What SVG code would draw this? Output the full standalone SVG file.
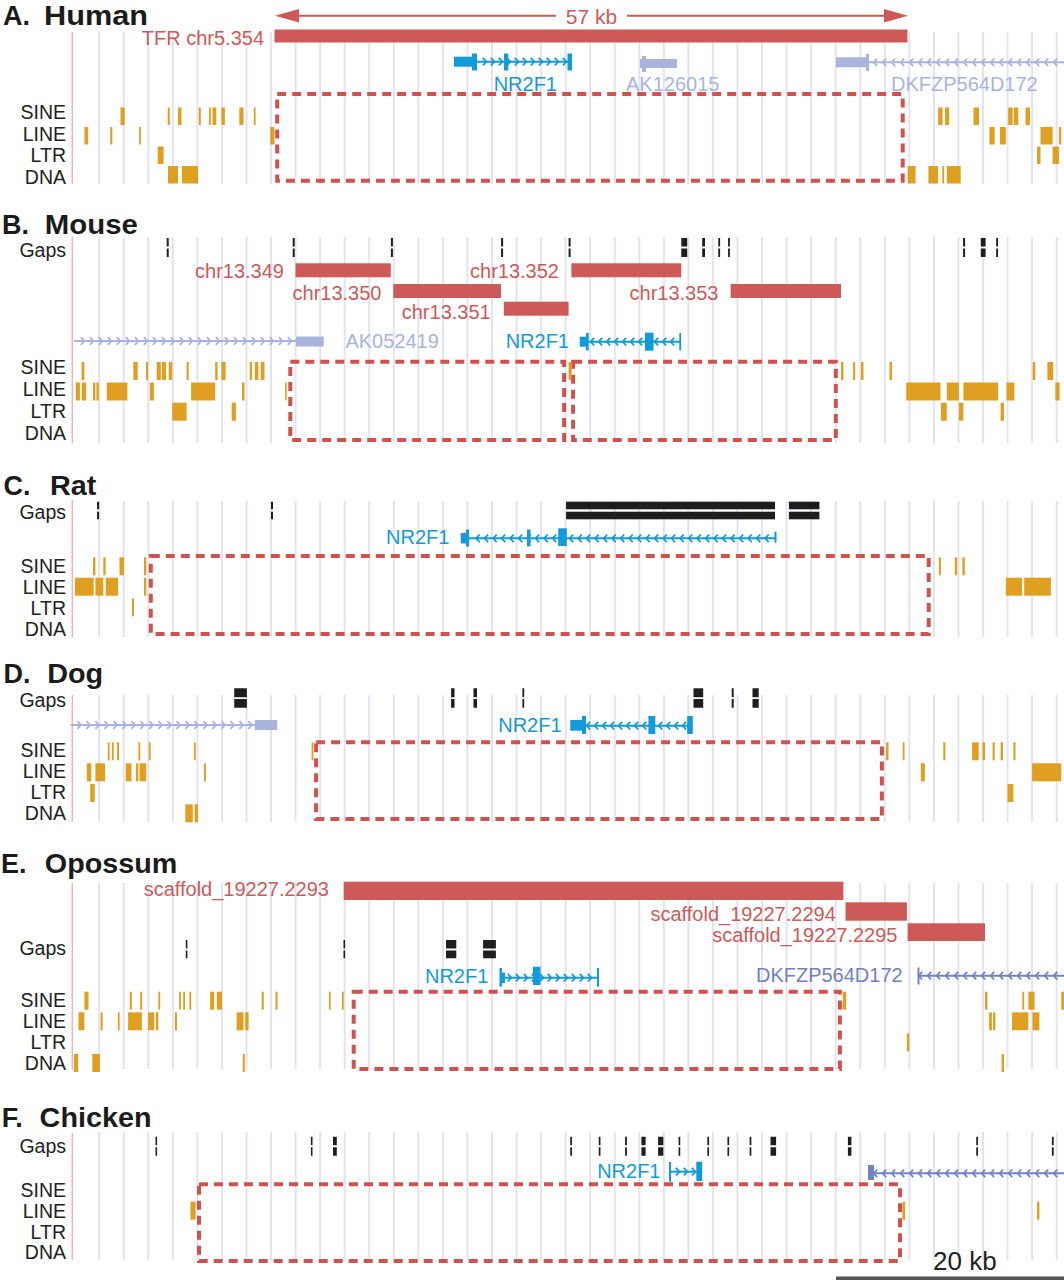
<svg xmlns="http://www.w3.org/2000/svg" width="1064" height="1280" viewBox="0 0 1064 1280">
<style>
.t{font-family:'Liberation Sans',Arial,sans-serif;font-weight:bold;font-size:27px;fill:#1b1b1b}
.l{font-family:'Liberation Sans',Arial,sans-serif;font-size:19.5px;fill:#222;text-anchor:end}
.rt{font-family:'Liberation Sans',Arial,sans-serif;font-size:20px;fill:#cd5a57;text-anchor:end}
.bt{font-family:'Liberation Sans',Arial,sans-serif;font-size:20px;fill:#119bda;text-anchor:end}
.vt{font-family:'Liberation Sans',Arial,sans-serif;font-size:20px;fill:#a8b4de}
.dt{font-family:'Liberation Sans',Arial,sans-serif;font-size:20px;fill:#6f80c3;text-anchor:end}
.g{fill:url(#grid)}
.ax{stroke:#f5b3b3;stroke-width:1.5}
.r{fill:#dfa021}
.c{fill:#cd5a57}
.k{fill:#1e1e1e}
.gp{stroke:#1e1e1e;stroke-width:2;stroke-dasharray:8.5 2}
.bx{fill:none;stroke:#d0524f;stroke-width:4;stroke-dasharray:9 6}
.nb{fill:#119bda}
.nl{stroke:#119bda;stroke-width:2;fill:none;marker-mid:url(#chB)}
.lb{fill:#a8b4de}
.ll{stroke:#a8b4de;stroke-width:2;fill:none;marker-mid:url(#chL)}
.db{fill:#7183c5}
.dl{stroke:#7183c5;stroke-width:2;fill:none;marker-mid:url(#chD)}
</style>
<defs>
<pattern id="grid" patternUnits="userSpaceOnUse" x="0" y="0" width="24.55" height="20"><rect x="0.2" y="0" width="1.6" height="20" fill="#dcdcee"/></pattern>
<marker id="chB" viewBox="-5 -5 10 10" markerWidth="10" markerHeight="10" refX="0" refY="0" orient="auto" markerUnits="userSpaceOnUse"><path d="M-2.2,-3.8 L1.4,0 L-2.2,3.8" fill="none" stroke="#119bda" stroke-width="1.8"/></marker>
<marker id="chL" viewBox="-5 -5 10 10" markerWidth="10" markerHeight="10" refX="0" refY="0" orient="auto" markerUnits="userSpaceOnUse"><path d="M-2.2,-3.8 L1.4,0 L-2.2,3.8" fill="none" stroke="#a8b4de" stroke-width="1.8"/></marker>
<marker id="chD" viewBox="-5 -5 10 10" markerWidth="10" markerHeight="10" refX="0" refY="0" orient="auto" markerUnits="userSpaceOnUse"><path d="M-2.2,-3.8 L1.4,0 L-2.2,3.8" fill="none" stroke="#7183c5" stroke-width="1.8"/></marker>
</defs>
<rect width="1064" height="1280" fill="#fff"/>

<!-- A. Human -->
<g id="panel-human">
<rect class="g" x="98" y="32" width="966" height="152"/>
<line class="ax" x1="72.3" y1="32" x2="72.3" y2="184"/>
<text class="t" x="3" y="25">A.</text><text class="t" x="44" y="25" textLength="104" lengthAdjust="spacingAndGlyphs">Human</text>
<g id="human-labels"><text class="l" x="66" y="118.5">SINE</text><text class="l" x="66" y="140.5">LINE</text><text class="l" x="66" y="162">LTR</text><text class="l" x="66" y="184">DNA</text></g>
<g id="human-tfr"><rect class="c" x="274.5" y="29.5" width="633" height="13"/><text class="rt" x="264" y="45">TFR chr5.354</text></g>
<g id="human-nr2f1"><path class="nl" d="M477,61.7 h8 h8 h8 h8 h8 h8 h8 h8 h8 h8 h8 H570"/><rect class="nb" x="454" y="56.7" width="21" height="10"/><rect class="nb" x="472" y="53.5" width="5" height="17"/><rect class="nb" x="504" y="53.5" width="4.3" height="17"/><rect class="nb" x="567.5" y="53.5" width="4.5" height="17"/><text class="bt" x="557" y="91">NR2F1</text></g>
<g id="human-ak126015"><rect class="lb" x="640" y="59" width="37" height="9"/><rect class="lb" x="642" y="56" width="4" height="16"/><text class="vt" x="626" y="91">AK126015</text></g>
<g id="human-dkfzp"><path class="ll" d="M1064,62.3 h-9 h-9 h-9 h-9 h-9 h-9 h-9 h-9 h-9 h-9 h-9 h-9 h-9 h-9 h-9 h-9 h-9 h-9 h-9 h-9 h-9 H869"/><rect class="lb" x="836" y="57.3" width="31" height="10"/><rect class="lb" x="866" y="54" width="3" height="17"/><text class="vt" x="891" y="91">DKFZP564D172</text></g>
<rect id="human-box" class="bx" x="277.2" y="94" width="625.5" height="86.7"/>
<g id="human-rep" class="r">
<g transform="translate(0,107.5)"><rect x="120.5" width="4.2" height="17.5"/><rect x="167.7" width="2.1" height="17.5"/><rect x="178" width="3.5" height="17.5"/><rect x="198.7" width="2.1" height="17.5"/><rect x="209" width="1.8" height="17.5"/><rect x="212.5" width="3.8" height="17.5"/><rect x="221.4" width="3.5" height="17.5"/><rect x="239.3" width="4.2" height="17.5"/><rect x="253.8" width="1.8" height="17.5"/><rect x="938.1" width="4.5" height="17.5"/><rect x="945" width="4.2" height="17.5"/><rect x="973.5" width="5.5" height="17.5"/><rect x="1008.2" width="4.5" height="17.5"/><rect x="1013.8" width="4.5" height="17.5"/><rect x="1025.5" width="4.5" height="17.5"/></g>
<g transform="translate(0,127)"><rect x="84.4" width="3.8" height="17.5"/><rect x="110.2" width="2.1" height="17.5"/><rect x="139.1" width="1.8" height="17.5"/><rect x="270.3" width="4.2" height="17.5"/><rect x="989.5" width="5.2" height="17.5"/><rect x="999.9" width="5.9" height="17.5"/><rect x="1040.5" width="12.1" height="17.5"/><rect x="1058.9" width="2.4" height="17.5"/></g>
<g transform="translate(0,146.5)"><rect x="157.7" width="5.9" height="17.5"/><rect x="1037" width="3.5" height="17.5"/><rect x="1052.6" width="6.3" height="17.5"/></g>
<g transform="translate(0,166)"><rect x="168" width="10" height="17.5"/><rect x="181.8" width="16.2" height="17.5"/><rect x="907.6" width="8" height="17.5"/><rect x="928.4" width="9.7" height="17.5"/><rect x="942.3" width="1.8" height="17.5"/><rect x="946.8" width="13.9" height="17.5"/></g>
</g>
</g>

<!-- B. Mouse -->
<g id="panel-mouse">
<rect class="g" x="98" y="237" width="966" height="206"/>
<line class="ax" x1="72.3" y1="237" x2="72.3" y2="443"/>
<text class="t" x="2" y="234">B.</text><text class="t" x="44.8" y="234" textLength="93" lengthAdjust="spacingAndGlyphs">Mouse</text>
<g id="mouse-labels"><text class="l" x="66" y="257">Gaps</text><text class="l" x="66" y="374">SINE</text><text class="l" x="66" y="396">LINE</text><text class="l" x="66" y="418">LTR</text><text class="l" x="66" y="440">DNA</text></g>
<g id="mouse-gaps" class="gp"><line x1="167.7" y1="238" x2="167.7" y2="258"/><line x1="293.7" y1="238" x2="293.7" y2="258"/><line x1="391.9" y1="238" x2="391.9" y2="258"/><line x1="502.1" y1="238" x2="502.1" y2="258"/><line x1="569.6" y1="238" x2="569.6" y2="258"/><line x1="684.25" y1="238" x2="684.25" y2="258" stroke-width="5.9"/><line x1="703.6" y1="238" x2="703.6" y2="258" stroke-width="2.8"/><line x1="719.2" y1="238" x2="719.2" y2="258" stroke-width="1.8"/><line x1="729" y1="238" x2="729" y2="258" stroke-width="1.8"/><line x1="964.1" y1="238" x2="964.1" y2="258"/><line x1="983.2" y1="238" x2="983.2" y2="258" stroke-width="4.8"/><line x1="997.1" y1="238" x2="997.1" y2="258" stroke-width="1.8"/></g>
<g id="mouse-contigs"><rect class="c" x="295.5" y="263.3" width="95.3" height="14"/><text class="rt" x="284" y="278">chr13.349</text><rect class="c" x="393.3" y="284" width="107.7" height="14"/><text class="rt" x="381.5" y="299.5">chr13.350</text><rect class="c" x="503.8" y="301.7" width="64.8" height="14"/><text class="rt" x="490.7" y="319">chr13.351</text><rect class="c" x="571.4" y="263.3" width="109.9" height="14"/><text class="rt" x="559" y="278">chr13.352</text><rect class="c" x="730.6" y="284" width="110.4" height="14"/><text class="rt" x="718.5" y="299.5">chr13.353</text></g>
<g id="mouse-ak052419"><path class="ll" d="M74,341 h9 h9 h9 h9 h9 h9 h9 h9 h9 h9 h9 h9 h9 h9 h9 h9 h9 h9 h9 h9 h9 h9 h9 h9 H296"/><rect class="lb" x="296" y="336.5" width="27.7" height="10"/><text class="vt" x="345.4" y="348">AK052419</text></g>
<g id="mouse-nr2f1"><path class="nl" d="M680,341.7 h-8 h-8 h-8 h-8 h-8 h-8 h-8 h-8 h-8 h-8 h-8 H588"/><rect class="nb" x="579.7" y="336.7" width="8" height="10"/><rect class="nb" x="586" y="333" width="2.7" height="17.5"/><rect class="nb" x="645" y="332.7" width="8.6" height="18"/><rect class="nb" x="679.3" y="333" width="1.8" height="17.5"/><text class="bt" x="569" y="348">NR2F1</text></g>
<rect id="mouse-box1" class="bx" x="290.3" y="361.7" width="273.8" height="78.3"/>
<rect id="mouse-box2" class="bx" x="573.1" y="361.7" width="262.7" height="78.3"/>
<g id="mouse-rep" class="r">
<g transform="translate(0,362)"><rect x="81.6" width="2.8" height="18"/><rect x="133.3" width="4.4" height="18"/><rect x="146" width="2" height="18"/><rect x="156.7" width="4.1" height="18"/><rect x="161.8" width="4.2" height="18"/><rect x="168.7" width="3.5" height="18"/><rect x="186.6" width="2.1" height="18"/><rect x="215.2" width="2.4" height="18"/><rect x="221.4" width="4.2" height="18"/><rect x="249.7" width="2.3" height="18"/><rect x="254.8" width="3.5" height="18"/><rect x="260.7" width="3.8" height="18"/><rect x="568.6" width="3" height="18"/><rect x="841" width="2.4" height="18"/><rect x="853.1" width="2.1" height="18"/><rect x="861" width="2.5" height="18"/><rect x="889.5" width="2.5" height="18"/><rect x="1032.8" width="2.5" height="18"/><rect x="1047.4" width="5.9" height="18"/></g>
<g transform="translate(0,382.5)"><rect x="75.8" width="4.1" height="18"/><rect x="81.6" width="4.5" height="18"/><rect x="93" width="2.4" height="18"/><rect x="96.4" width="2.4" height="18"/><rect x="106.7" width="20.7" height="18"/><rect x="149.8" width="4.1" height="18"/><rect x="191.1" width="24.1" height="18"/><rect x="242" width="2.5" height="18"/><rect x="285.1" width="1.6" height="18"/><rect x="906.2" width="34.3" height="18"/><rect x="946.8" width="12.1" height="18"/><rect x="963.4" width="34.7" height="18"/><rect x="1006.5" width="7.9" height="18"/><rect x="1055.4" width="4.2" height="18"/></g>
<g transform="translate(0,402.7)"><rect x="172.2" width="14.4" height="18"/><rect x="231.7" width="4.2" height="18"/><rect x="940.9" width="5.9" height="18"/><rect x="958.9" width="4.5" height="18"/><rect x="1000.6" width="3.4" height="18"/></g>
</g>
</g>

<!-- C. Rat -->
<g id="panel-rat">
<rect class="g" x="98" y="501" width="966" height="136"/>
<line class="ax" x1="72.3" y1="500" x2="72.3" y2="637"/>
<text class="t" x="3.4" y="495">C.</text><text class="t" x="50" y="495" textLength="46.4" lengthAdjust="spacingAndGlyphs">Rat</text>
<g id="rat-labels"><text class="l" x="66" y="519">Gaps</text><text class="l" x="66" y="573">SINE</text><text class="l" x="66" y="594">LINE</text><text class="l" x="66" y="615">LTR</text><text class="l" x="66" y="636">DNA</text></g>
<g id="rat-gaps"><g class="gp" style="stroke-dasharray:7.6 2.4"><line x1="98.1" y1="501.7" x2="98.1" y2="519.3"/><line x1="272" y1="501.7" x2="272" y2="519.3"/></g><rect class="k" x="566.1" y="501.7" width="208.9" height="7.6"/><rect class="k" x="566.1" y="511.7" width="208.9" height="7.6"/><rect class="k" x="788.9" y="501.7" width="30.5" height="7.6"/><rect class="k" x="788.9" y="511.7" width="30.5" height="7.6"/></g>
<g id="rat-nr2f1"><path class="nl" d="M775,538.3 h-8.5 h-8.5 h-8.5 h-8.5 h-8.5 h-8.5 h-8.5 h-8.5 h-8.5 h-8.5 h-8.5 h-8.5 h-8.5 h-8.5 h-8.5 h-8.5 h-8.5 h-8.5 h-8.5 h-8.5 h-8.5 h-8.5 h-8.5 h-8.5 h-8.5 h-8.5 h-8.5 h-8.5 h-8.5 h-8.5 h-8.5 h-8.5 h-8.5 h-8.5 h-8.5 H468"/><rect class="nb" x="460.7" y="533" width="7.6" height="10.5"/><rect class="nb" x="466" y="529.5" width="3" height="17"/><rect class="nb" x="527" y="529.5" width="3.5" height="17"/><rect class="nb" x="558.2" y="528.3" width="8.6" height="17.7"/><rect class="nb" x="774.5" y="531.7" width="2" height="11"/><text class="bt" x="449.4" y="544">NR2F1</text></g>
<rect id="rat-box" class="bx" x="150.8" y="556" width="777.9" height="78"/>
<g id="rat-rep" class="r">
<g transform="translate(0,557.3)"><rect x="93" width="2.4" height="18"/><rect x="103.3" width="2.4" height="18"/><rect x="119.5" width="4.5" height="18"/><rect x="144" width="2.3" height="18"/><rect x="938.8" width="2.1" height="18"/><rect x="954.8" width="2.4" height="18"/><rect x="962.4" width="2.4" height="18"/></g>
<g transform="translate(0,577.7)"><rect x="75" width="18.7" height="18"/><rect x="95.4" width="7.9" height="18"/><rect x="105.7" width="12.4" height="18"/><rect x="144" width="2.3" height="18"/><rect x="1005.8" width="16.3" height="18"/><rect x="1024.2" width="26.7" height="18"/></g>
<g transform="translate(0,598.3)"><rect x="131.9" width="2.1" height="18"/></g>
</g>
</g>

<!-- D. Dog -->
<g id="panel-dog">
<rect class="g" x="98" y="695" width="966" height="127"/>
<line class="ax" x1="72.3" y1="695" x2="72.3" y2="822"/>
<text class="t" x="3.4" y="683">D.</text><text class="t" x="47.2" y="683" textLength="56" lengthAdjust="spacingAndGlyphs">Dog</text>
<g id="dog-labels"><text class="l" x="66" y="706.5">Gaps</text><text class="l" x="66" y="757">SINE</text><text class="l" x="66" y="778">LINE</text><text class="l" x="66" y="799">LTR</text><text class="l" x="66" y="820">DNA</text></g>
<g id="dog-gaps" class="gp" style="stroke-dasharray:9 1.8"><line x1="240.55" y1="688.3" x2="240.55" y2="707.7" stroke-width="12.7"/><line x1="452.8" y1="688.3" x2="452.8" y2="707.7" stroke-width="3.4"/><line x1="475.25" y1="688.3" x2="475.25" y2="707.7" stroke-width="3.5"/><line x1="523.3" y1="688.3" x2="523.3" y2="707.7" stroke-width="1.8"/><line x1="698.35" y1="688.3" x2="698.35" y2="707.7" stroke-width="9.7"/><line x1="732.7" y1="688.3" x2="732.7" y2="707.7"/><line x1="755.6" y1="688.3" x2="755.6" y2="707.7" stroke-width="6.2"/></g>
<g id="dog-gene-left"><path class="ll" d="M70.6,725 h9 h9 h9 h9 h9 h9 h9 h9 h9 h9 h9 h9 h9 h9 h9 h9 h9 h9 h9 h9 H255"/><rect class="lb" x="254.8" y="720" width="22.4" height="10"/></g>
<g id="dog-nr2f1"><path class="nl" d="M692,725.7 h-8 h-8 h-8 h-8 h-8 h-8 h-8 h-8 h-8 h-8 h-8 h-8 h-8 H586"/><rect class="nb" x="570.3" y="720" width="15.6" height="10.7"/><rect class="nb" x="582" y="716" width="4" height="18"/><rect class="nb" x="648.4" y="716" width="6.9" height="18"/><rect class="nb" x="687.2" y="716" width="5.6" height="18"/><text class="bt" x="561.6" y="732">NR2F1</text></g>
<rect id="dog-box" class="bx" x="316.1" y="742.3" width="565.8" height="76.7"/>
<g id="dog-rep" class="r">
<g transform="translate(0,742.3)"><rect x="107.8" width="1.8" height="18"/><rect x="111.9" width="1.8" height="18"/><rect x="117.1" width="2" height="18"/><rect x="138.4" width="1.8" height="18"/><rect x="148.8" width="1.8" height="18"/><rect x="193.9" width="1.8" height="18"/><rect x="311.6" width="1.8" height="18"/><rect x="886.1" width="2.4" height="18"/><rect x="902.7" width="1.8" height="18"/><rect x="943.3" width="2.1" height="18"/><rect x="972.1" width="6.6" height="18"/><rect x="982.5" width="2.5" height="18"/><rect x="992.6" width="2.1" height="18"/><rect x="1000.6" width="2.4" height="18"/><rect x="1013.4" width="2.1" height="18"/></g>
<g transform="translate(0,763.3)"><rect x="86.8" width="4.5" height="18"/><rect x="95.4" width="9.6" height="18"/><rect x="125.7" width="5.8" height="18"/><rect x="136" width="2.4" height="18"/><rect x="139.5" width="6.8" height="18"/><rect x="203.9" width="2" height="18"/><rect x="920.8" width="4.1" height="18"/><rect x="1032.1" width="29.2" height="18"/></g>
<g transform="translate(0,784)"><rect x="90.2" width="4.5" height="18"/><rect x="1007.5" width="5.9" height="18"/></g>
<g transform="translate(0,804.3)"><rect x="185.3" width="7.5" height="18"/><rect x="194.6" width="3.4" height="18"/></g>
</g>
</g>

<!-- E. Opossum -->
<g id="panel-opossum">
<rect class="g" x="98" y="883" width="966" height="186"/>
<line class="ax" x1="72.3" y1="883" x2="72.3" y2="1070"/>
<text class="t" x="1" y="873">E.</text><text class="t" x="44.8" y="873" textLength="132.5" lengthAdjust="spacingAndGlyphs">Opossum</text>
<g id="opossum-labels"><text class="l" x="66" y="955">Gaps</text><text class="l" x="66" y="1007">SINE</text><text class="l" x="66" y="1028">LINE</text><text class="l" x="66" y="1049">LTR</text><text class="l" x="66" y="1070">DNA</text></g>
<g id="opossum-scaffolds"><rect class="c" x="343.7" y="881.7" width="499.7" height="18.3"/><text class="rt" x="329" y="896">scaffold_19227.2293</text><rect class="c" x="845.5" y="902.3" width="61.4" height="18.4"/><text class="rt" x="835.8" y="921">scaffold_19227.2294</text><rect class="c" x="907.6" y="923.3" width="77.4" height="17.7"/><text class="rt" x="897.5" y="942">scaffold_19227.2295</text></g>
<g id="opossum-gaps" class="gp"><line x1="186.6" y1="940" x2="186.6" y2="958.3" stroke-width="1.6"/><line x1="344.3" y1="940" x2="344.3" y2="958.3" stroke-width="1.6"/><line x1="451.15" y1="940" x2="451.15" y2="958.3" stroke-width="10.3"/><line x1="489.5" y1="940" x2="489.5" y2="958.3" stroke-width="12.8"/></g>
<g id="opossum-nr2f1"><path class="nl" d="M502,977.7 h8 h8 h8 h8 h8 h8 h8 h8 h8 h8 h8 H598"/><rect class="nb" x="499.5" y="968" width="2.5" height="18.7"/><rect class="nb" x="500" y="972.5" width="5" height="10.5"/><rect class="nb" x="533" y="966.7" width="7.5" height="18.3"/><rect class="nb" x="597" y="968" width="2" height="18.7"/><text class="bt" x="488.3" y="983">NR2F1</text></g>
<g id="opossum-dkfzp"><path class="dl" d="M1064,975.7 h-9 h-9 h-9 h-9 h-9 h-9 h-9 h-9 h-9 h-9 h-9 h-9 h-9 h-9 h-9 h-9 H919"/><rect class="db" x="917.5" y="967.5" width="2" height="17"/><text class="dt" x="902.7" y="981.5">DKFZP564D172</text></g>
<rect id="opossum-box" class="bx" x="353.7" y="991.7" width="486.2" height="77.3"/>
<g id="opossum-rep" class="r">
<g transform="translate(0,991.7)"><rect x="84.4" width="4.1" height="18"/><rect x="129.8" width="2.1" height="18"/><rect x="140.2" width="2" height="18"/><rect x="158.4" width="1.8" height="18"/><rect x="179.1" width="1.8" height="18"/><rect x="183.2" width="1.8" height="18"/><rect x="189.4" width="1.8" height="18"/><rect x="210.1" width="4.1" height="18"/><rect x="216.9" width="5.2" height="18"/><rect x="261.7" width="2.1" height="18"/><rect x="275.5" width="2" height="18"/><rect x="328.9" width="1.8" height="18"/><rect x="341.9" width="1.8" height="18"/><rect x="842.7" width="3.5" height="18"/><rect x="985" width="2.4" height="18"/><rect x="1022.4" width="1.8" height="18"/><rect x="1028.3" width="6.3" height="18"/><rect x="1061.3" width="2.7" height="18"/></g>
<g transform="translate(0,1012.3)"><rect x="78.5" width="5.9" height="18"/><rect x="100.6" width="2" height="18"/><rect x="117.8" width="1.8" height="18"/><rect x="128.1" width="13.8" height="18"/><rect x="148.1" width="6.2" height="18"/><rect x="156" width="2.4" height="18"/><rect x="174.9" width="2.1" height="18"/><rect x="236.6" width="6.9" height="18"/><rect x="245.2" width="3.4" height="18"/><rect x="989.1" width="2.8" height="18"/><rect x="993" width="2.4" height="18"/><rect x="1012" width="16.3" height="18"/><rect x="1032.5" width="6.9" height="18"/></g>
<g transform="translate(0,1033.3)"><rect x="906.9" width="2.4" height="18"/></g>
<g transform="translate(0,1054)"><rect x="74" width="4.2" height="18"/><rect x="92.3" width="7.6" height="18"/><rect x="242.8" width="2" height="18"/><rect x="1001.6" width="2.4" height="18"/></g>
</g>
</g>

<!-- F. Chicken -->
<g id="panel-chicken">
<rect class="g" x="98" y="1132" width="966" height="128"/>
<line class="ax" x1="72.3" y1="1133" x2="72.3" y2="1260"/>
<text class="t" x="1.7" y="1127">F.</text><text class="t" x="39.6" y="1127" textLength="112" lengthAdjust="spacingAndGlyphs">Chicken</text>
<g id="chicken-labels"><text class="l" x="66" y="1153">Gaps</text><text class="l" x="66" y="1197">SINE</text><text class="l" x="66" y="1218">LINE</text><text class="l" x="66" y="1239">LTR</text><text class="l" x="66" y="1259">DNA</text></g>
<g id="chicken-gaps" class="gp"><line x1="156.3" y1="1136.7" x2="156.3" y2="1155.7" stroke-width="1.6"/><line x1="311.7" y1="1136.7" x2="311.7" y2="1155.7" stroke-width="1.6"/><line x1="334.9" y1="1136.7" x2="334.9" y2="1155.7" stroke-width="3.8"/><line x1="571.1" y1="1136.7" x2="571.1" y2="1155.7" stroke-width="1.7"/><line x1="599.6" y1="1136.7" x2="599.6" y2="1155.7" stroke-width="1.7"/><line x1="626" y1="1136.7" x2="626" y2="1155.7" stroke-width="1.8"/><line x1="643.5" y1="1136.7" x2="643.5" y2="1155.7" stroke-width="4.2"/><line x1="660.7" y1="1136.7" x2="660.7" y2="1155.7" stroke-width="5.2"/><line x1="679.4" y1="1136.7" x2="679.4" y2="1155.7" stroke-width="1.7"/><line x1="708.2" y1="1136.7" x2="708.2" y2="1155.7" stroke-width="1.7"/><line x1="728.3" y1="1136.7" x2="728.3" y2="1155.7" stroke-width="1.7"/><line x1="750.5" y1="1136.7" x2="750.5" y2="1155.7" stroke-width="1.7"/><line x1="773.3" y1="1136.7" x2="773.3" y2="1155.7" stroke-width="5.6"/><line x1="849.65" y1="1136.7" x2="849.65" y2="1155.7" stroke-width="3.5"/><line x1="977.1" y1="1136.7" x2="977.1" y2="1155.7" stroke-width="1.7"/><line x1="1052.8" y1="1136.7" x2="1052.8" y2="1155.7" stroke-width="1.8"/></g>
<g id="chicken-nr2f1"><path class="nl" d="M670,1171.7 h8 h8 h8 H696.3"/><rect class="nb" x="669" y="1162" width="2" height="19.7"/><rect class="nb" x="696.3" y="1161.7" width="5.9" height="19.3"/><text class="bt" x="660.5" y="1178">NR2F1</text></g>
<g id="chicken-gene-right"><path class="dl" d="M1064,1173.3 h-9 h-9 h-9 h-9 h-9 h-9 h-9 h-9 h-9 h-9 h-9 h-9 h-9 h-9 h-9 h-9 h-9 h-9 h-9 h-9 h-9 H874"/><rect class="db" x="868" y="1165" width="6" height="15"/></g>
<rect id="chicken-box" class="bx" x="199" y="1184.3" width="701" height="76.7"/>
<g id="chicken-rep" class="r">
<g transform="translate(0,1201.7)"><rect x="190.4" width="5.2" height="18"/><rect x="902.4" width="2.8" height="18"/><rect x="1037" width="2.4" height="18"/></g>
</g>
<g id="scale-bar"><text x="933" y="1270" style="font-family:'Liberation Sans',Arial,sans-serif;font-size:26px;fill:#222">20 kb</text><rect x="836" y="1276.5" width="228" height="3.5" fill="#555"/></g>
</g>

<g id="connectors">
<g id="arrow-57kb" stroke="#cd5a57" stroke-width="2" fill="#cd5a57">
<line x1="295" y1="15.7" x2="556" y2="15.7"/><line x1="627" y1="15.7" x2="888" y2="15.7"/>
<polygon stroke="none" points="275,15.7 299,9 299,22.4"/><polygon stroke="none" points="908,15.7 884,9 884,22.4"/>
</g>
<text x="591.5" y="23.5" text-anchor="middle" style="font-family:'Liberation Sans',Arial,sans-serif;font-size:21px;fill:#cd5a57">57 kb</text>
</g>
</svg>
